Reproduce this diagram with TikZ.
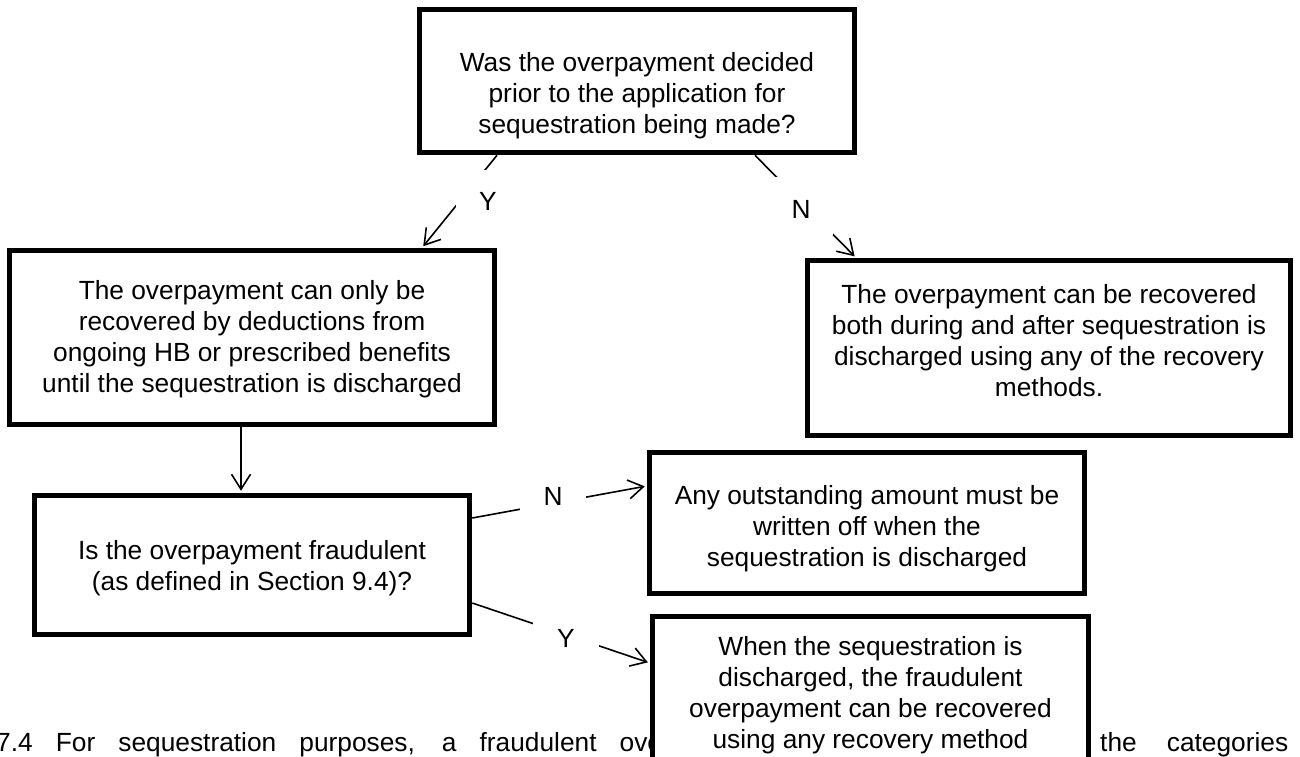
\documentclass[tikz,border=0pt]{standalone}
\usepackage{fontspec}
\setmainfont{Liberation Sans}
\usetikzlibrary{arrows.meta}

\begin{document}
\begin{tikzpicture}[x=1pt, y=-1pt,
    box/.style={draw=black, line width=5.5pt, fill=white, align=center, inner sep=0pt,
      text depth=0pt, font=\fontsize{26.3}{31}\selectfont},
    conn/.style={line width=1.6pt, -{Straight Barb[length=15pt, width=19pt]}, shorten >=2pt},
    gaplbl/.style={fill=white, inner sep=0pt, anchor=base, font=\fontsize{26.3}{31}\selectfont},
    para/.style={inner sep=0pt, anchor=base west, font=\fontsize{26.3}{31}\selectfont}]
  \useasboundingbox (0,0) rectangle (1300,756);
  \clip (0,0) rectangle (1300,756);

  % --- body text of the page, partly hidden by the last box ---
  \node[para] (pLeft) at (-4,751) {\makebox[666pt][s]{7.4 For sequestration purposes, a fraudulent ove}};
  \node[para] (pRight) at (1100,751) {\makebox[188pt][s]{the categories}};

  % --- boxes ---
  \node[box, minimum width=435pt, minimum height=143pt, text height=104pt] (q1) at (637,81)
    {Was the overpayment decided\\prior to the application for\\sequestration being made?};
  \node[box, minimum width=485pt, minimum height=174pt, text height=109pt] (cHB) at (252,337.5)
    {The overpayment can only be\\recovered by deductions from\\ongoing HB or prescribed benefits\\until the sequestration is discharged};
  \node[box, minimum width=483pt, minimum height=175pt, text height=96pt] (cAny) at (1049,348)
    {The overpayment can be recovered\\both during and after sequestration is\\discharged using any of the recovery\\methods.};
  \node[box, minimum width=435pt, minimum height=139pt, text height=50pt] (qFraud) at (252,565)
    {Is the overpayment fraudulent\\(as defined in Section 9.4)?};
  \node[box, minimum width=435pt, minimum height=141pt, text height=86pt] (wOff) at (867,523)
    {Any outstanding amount must be\\written off when the\\sequestration is discharged};
  \node[box, minimum width=436pt, minimum height=153pt, text height=110pt] (wRec) at (870.5,693)
    {When the sequestration is\\discharged, the fraudulent\\overpayment can be recovered\\using any recovery method};

  % --- connectors ---
  \draw[conn] ([xshift=-140pt]q1.south) -- ([xshift=170pt]cHB.north);
  \draw[conn] ([xshift=118pt]q1.south) -- ([xshift=-193pt]cAny.north);
  \draw[conn] ([xshift=-11pt]cHB.south) -- ([xshift=-11pt]qFraud.north);
  \draw[conn] ([yshift=47pt]qFraud.east) -- ([yshift=37pt]wOff.west);
  \draw[conn] ([yshift=-38pt]qFraud.east) -- ([yshift=30pt]wRec.west);

  % --- Y / N labels, white behind so they break the line ---
  \node[gaplbl, minimum width=64pt, text height=40pt, text depth=2pt] (yes1) at (488,210) {Y};
  \node[gaplbl, minimum width=64pt, text height=41pt, text depth=17pt] (no1) at (801,218) {N};
  \node[gaplbl, minimum width=66pt, text height=15pt, text depth=7pt] (no2) at (553,505) {N};
  \node[gaplbl, minimum width=66pt, text height=27pt, text depth=3pt] (yes2) at (566,647) {Y};
\end{tikzpicture}
\end{document}
